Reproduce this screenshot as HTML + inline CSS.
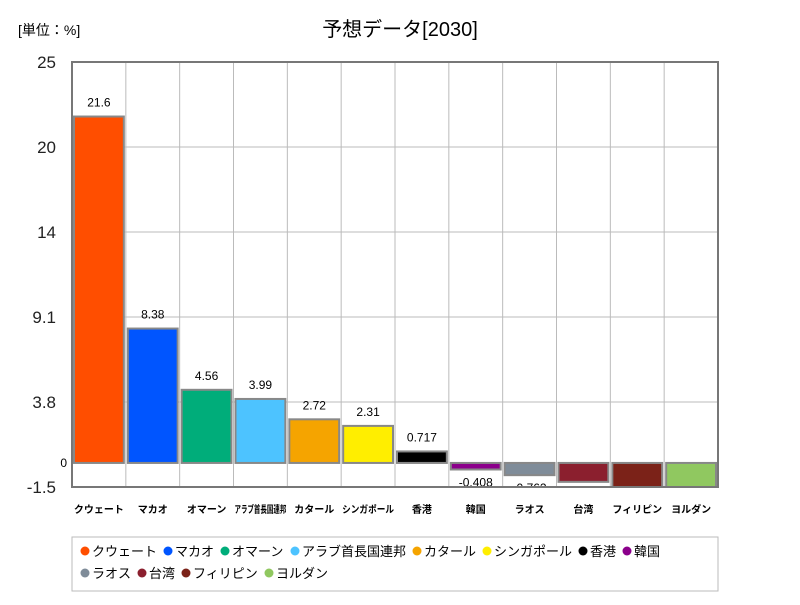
<!DOCTYPE html>
<html><head><meta charset="utf-8"><style>
body{margin:0;background:#fff;font-family:"Liberation Sans","Noto Sans CJK JP",sans-serif;}
svg text{font-family:"Liberation Sans","Noto Sans CJK JP",sans-serif;}
</style></head><body>
<svg id="c" width="800" height="600" xmlns="http://www.w3.org/2000/svg">
<defs><clipPath id="pc"><rect x="72" y="62" width="646" height="425"/></clipPath></defs>
<text x="400" y="36" font-size="20" text-anchor="middle">予想データ[2030]</text>
<text x="18" y="35" font-size="14">[単位：%]</text>
<g id="grid"></g><g id="bars" clip-path="url(#pc)"></g><g id="labels"></g>
<rect x="72" y="62" width="646" height="425" fill="none" stroke="#777" stroke-width="2"/>
<rect x="72" y="537" width="646" height="54" fill="#fff" stroke="#bbb"/>
<g id="legend"></g>
</svg>
<script>
const categories=["クウェート","マカオ","オマーン","アラブ首長国連邦","カタール","シンガポール","香港","韓国","ラオス","台湾","フィリピン","ヨルダン"];
const values=[21.6,8.38,4.56,3.99,2.72,2.31,0.717,-0.408,-0.762,-1.18,-1.6,-1.7];
const valueLabels=["21.6","8.38","4.56","3.99","2.72","2.31","0.717","-0.408","-0.762","","",""];
const colors=["#ff4e00","#0055ff","#00ad7a","#4dc3ff","#f5a400","#ffee00","#000000","#8b008b","#7f8c99","#8b1f2e","#7b2218","#90c860"];
const tickValues=[-1.5,3.8,9.1,14.4,19.7,25];
const tickLabels=["-1.5","3.8","9.1","14","20","25"];
const yMin=-1.5,yMax=25,plotTop=62,plotBot=487,plotLeft=72,plotRight=718;
const y=v=>plotBot-(v-yMin)/(yMax-yMin)*(plotBot-plotTop);
const bw=(plotRight-plotLeft)/categories.length;
const x=i=>plotLeft+i*bw;
const NS="http://www.w3.org/2000/svg";
function mk(t,a,p,txt){const e=document.createElementNS(NS,t);for(const k in a)e.setAttribute(k,a[k]);if(txt!=null)e.textContent=txt;p.appendChild(e);return e;}
const g=document.getElementById('grid'),b=document.getElementById('bars'),l=document.getElementById('labels'),lg=document.getElementById('legend');
tickValues.forEach((v,i)=>{
 const ln=mk('line',{x1:plotLeft,x2:plotRight,y1:y(v),y2:y(v),stroke:'#bbb'},g);
 
 
 const t=mk('text',{x:56,y:y(v)+6,'font-size':17,'text-anchor':'end',fill:'#222'},g,tickLabels[i]);
 
 
});
const z=mk('text',{x:67,y:y(0)+4,'font-size':12,'text-anchor':'end'},g,"0");


for(let i=1;i<categories.length;i++){
 const ln=mk('line',{x1:x(i),x2:x(i),y1:plotTop,y2:plotBot,stroke:'#bbb'},g);
 
 
}
categories.forEach((c,i)=>{
 const v=values[i];const y0=y(0),y1=y(v);
 const r=mk('rect',{x:x(i)+2,y:Math.min(y0,y1),width:bw-4,height:Math.abs(y1-y0),fill:colors[i],stroke:'#888','stroke-width':2},b);
 
 
 if(valueLabels[i]){
  const ly=v>=0?y1-10:y1+17;
  const t=mk('text',{x:x(i)+bw/2,y:ly,'font-size':12,'text-anchor':'middle'},b,valueLabels[i]);
  
  
 }
 const attrs={x:x(i)+bw/2,y:513,'font-size':10,'font-weight':'bold','text-anchor':'middle'};
 if(c.length>5){attrs.textLength=bw-2;attrs.lengthAdjust='spacingAndGlyphs';}
 const t=mk('text',attrs,l,c);
 
 
});
let lx=80,ly=556;
categories.forEach((c,i)=>{
 const w=14+c.length*13+4;
 if(lx+w>712){lx=80;ly+=22;}
 const gr=mk('g',{},lg);
 
 
 mk('circle',{cx:lx+5,cy:ly-5,r:4.5,fill:colors[i]},gr);
 mk('text',{x:lx+12,y:ly,'font-size':13},gr,c);
 lx+=w;
});
</script>
</body></html>
